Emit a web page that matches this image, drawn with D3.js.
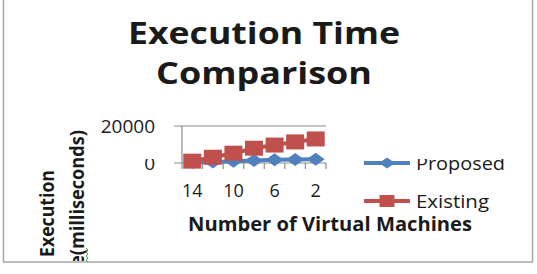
<!DOCTYPE html>
<meta charset="utf-8">
<style>
    body { margin: 0; background: #fff; }
    text { font-family: 'Open Sans', sans-serif; fill: #1a1a1a; }
</style>
<svg width="537" height="274"></svg>
<script src="https://cdn.jsdelivr.net/npm/d3@7/dist/d3.min.js"></script>
<script>
    // values
    var machines = ["14", "12", "10", "8", "6", "4", "2"];
    var proposed = [300, 600, 1000, 1400, 1800, 1900, 2000];
    var existing = [1000, 3100, 5300, 8000, 9700, 11400, 13000];
    var yTicks = [0, 20000];
    var xLabels = ["14", "10", "6", "2"];

    var svg = d3.select("svg");
    var blue = "#4F81BD", red = "#C0504D", gray = "#8c8c8c";

    // chart frame
    svg.append("rect")
        .attr("x", 3.5).attr("y", -5)
        .attr("width", 529).attr("height", 267)
        .attr("fill", "none").attr("stroke", "#a6a6a6").attr("stroke-width", 1.5);

    svg.append("text").attr("x", 264).attr("y", 44)
        .attr("text-anchor", "middle").attr("font-size", 30).attr("font-weight", 700)
        .attr("textLength", 272).attr("lengthAdjust", "spacingAndGlyphs")
        .text("Execution Time");
    svg.append("text").attr("x", 264).attr("y", 84)
        .attr("text-anchor", "middle").attr("font-size", 30).attr("font-weight", 700)
        .attr("textLength", 216).attr("lengthAdjust", "spacingAndGlyphs")
        .text("Comparison");

    var x = d3.scaleBand().domain(machines).range([182, 326]);
    var y = d3.scaleLinear().domain([0, 20000]).range([163, 126]);

    // gridline at 20000 and axes
    svg.append("line")
        .attr("x1", 174).attr("x2", 326).attr("y1", y(20000)).attr("y2", y(20000))
        .attr("stroke", gray).attr("stroke-width", 1.2);
    svg.append("line")
        .attr("x1", 182).attr("x2", 182).attr("y1", y(20000)).attr("y2", y(0))
        .attr("stroke", gray).attr("stroke-width", 1.2);
    svg.append("line")
        .attr("x1", 174).attr("x2", 326).attr("y1", y(0)).attr("y2", y(0))
        .attr("stroke", gray).attr("stroke-width", 1.2);

    // category tick marks at band edges
    var edges = machines.map(function (d) { return x(d); }).concat([x.range()[1]]);
    svg.selectAll(".xt").data(edges).enter().append("line")
        .attr("x1", function (d) { return d; }).attr("x2", function (d) { return d; })
        .attr("y1", y(0)).attr("y2", y(0) + 6)
        .attr("stroke", gray).attr("stroke-width", 1.2);

    // clip for labels cut at the top in the reference
    svg.append("clipPath").attr("id", "cut")
        .append("rect").attr("x", 0).attr("y", 159).attr("width", 537).attr("height", 100);

    svg.selectAll(".yl").data(yTicks).enter().append("text")
        .attr("x", 155).attr("y", function (d) { return y(d) + 7; })
        .attr("text-anchor", "end").attr("font-size", 19)
        .attr("clip-path", function (d) { return d === 0 ? "url(#cut)" : null; })
        .text(function (d) { return d; });

    svg.selectAll(".xl").data(xLabels).enter().append("text")
        .attr("x", function (d) { return x(d) + x.bandwidth() / 2; })
        .attr("y", 197)
        .attr("text-anchor", "middle").attr("font-size", 18)
        .text(function (d) { return d; });

    svg.append("text").attr("x", 330).attr("y", 231)
        .attr("text-anchor", "middle").attr("font-size", 19).attr("font-weight", 700)
        .attr("textLength", 284).attr("lengthAdjust", "spacingAndGlyphs")
        .text("Number of Virtual Machines");

    svg.append("text").attr("transform", "translate(54,257) rotate(-90)")
        .attr("font-size", 19).attr("font-weight", 700)
        .attr("textLength", 87).attr("lengthAdjust", "spacingAndGlyphs")
        .text("Execution");
    svg.append("clipPath").attr("id", "frame")
        .append("rect").attr("x", 0).attr("y", 0).attr("width", 537).attr("height", 261);
    svg.append("g").attr("clip-path", "url(#frame)")
        .append("text").attr("transform", "translate(84,266) rotate(-90)")
        .attr("font-size", 19).attr("font-weight", 700)
        .attr("textLength", 136).attr("lengthAdjust", "spacingAndGlyphs")
        .text("e(milliseconds)");
    svg.append("path")
        .attr("d", "M86,248 l2,2 l-2,2 l2,2 l-2,2 l2,2 l-2,2 l2,2")
        .attr("fill", "none").attr("stroke", "#3aa040").attr("stroke-width", 1);

    // series
    var cx = function (d, i) { return x(machines[i]) + x.bandwidth() / 2; };
    var line = d3.line().x(cx).y(function (d) { return y(d); });

    svg.append("path").datum(proposed).attr("d", line)
        .attr("fill", "none").attr("stroke", blue).attr("stroke-width", 4);
    svg.selectAll(".pm").data(proposed).enter().append("path")
        .attr("transform", function (d, i) { return "translate(" + cx(d, i) + "," + y(d) + ")"; })
        .attr("d", "M0,-6.5 L9,0 L0,6.5 L-9,0 Z")
        .attr("fill", blue);

    svg.append("path").datum(existing).attr("d", line)
        .attr("fill", "none").attr("stroke", red).attr("stroke-width", 4);
    svg.selectAll(".em").data(existing).enter().append("rect")
        .attr("x", function (d, i) { return cx(d, i) - 9; })
        .attr("y", function (d) { return y(d) - 7.5; })
        .attr("width", 18).attr("height", 15)
        .attr("fill", red);

    // legend
    var legend = [{ name: "Proposed", color: blue, y: 163, shape: "diamond" },
                  { name: "Existing", color: red, y: 201, shape: "square" }];
    var lg = svg.selectAll(".lg").data(legend).enter().append("g");
    lg.append("line")
        .attr("x1", 364).attr("x2", 410)
        .attr("y1", function (d) { return d.y; }).attr("y2", function (d) { return d.y; })
        .attr("stroke", function (d) { return d.color; }).attr("stroke-width", 4);
    lg.append("path")
        .attr("transform", function (d) { return "translate(387," + d.y + ")"; })
        .attr("d", function (d) {
            return d.shape === "diamond" ? "M0,-5.5 L8,0 L0,5.5 L-8,0 Z" : "M-7.5,-6 H7.5 V6 H-7.5 Z";
        })
        .attr("fill", function (d) { return d.color; });
    lg.append("text")
        .attr("x", 416).attr("y", function (d) { return d.y + 7; })
        .attr("font-size", 18)
        .attr("textLength", function (d) { return d.name === "Proposed" ? 89 : 73; })
        .attr("lengthAdjust", "spacingAndGlyphs")
        .attr("clip-path", function (d) { return d.name === "Proposed" ? "url(#cut)" : null; })
        .text(function (d) { return d.name; });
</script>
